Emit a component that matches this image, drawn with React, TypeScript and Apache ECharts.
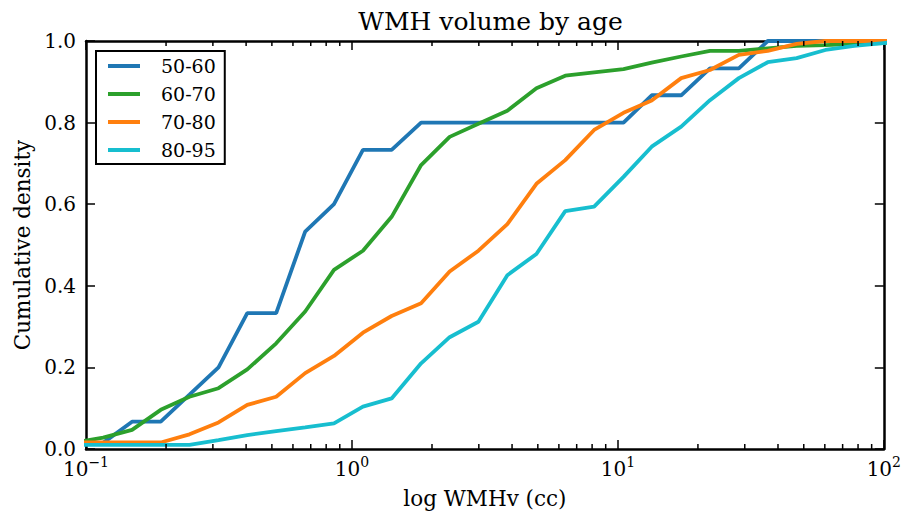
import React, { useEffect, useRef } from "react";
import * as echarts from "echarts";

// x positions (cc) of the cumulative curves
const xValues = [
  0.090, 0.116, 0.149, 0.191, 0.245, 0.315, 0.404, 0.519, 0.667, 0.856,
  1.10, 1.41, 1.82, 2.33, 2.99, 3.84, 4.94, 6.34, 8.14, 10.5,
  13.4, 17.3, 22.2, 28.5, 36.6, 47.0, 60.3, 77.4, 99.5, 128,
];

const ageGroups = ["50-60", "60-70", "70-80", "80-95"];

const cdf5060 = [
  0.013, 0.015, 0.067, 0.067, 0.133, 0.2, 0.333, 0.333, 0.533, 0.6,
  0.733, 0.733, 0.8, 0.8, 0.8, 0.8, 0.8, 0.8, 0.8, 0.8,
  0.867, 0.867, 0.933, 0.933, 1.0, 1.0, 1.0, 1.0, 1.0, 1.0,
];
const cdf6070 = [
  0.015, 0.028, 0.047, 0.096, 0.128, 0.149, 0.195, 0.259, 0.337, 0.439,
  0.486, 0.569, 0.696, 0.765, 0.797, 0.829, 0.884, 0.915, 0.923, 0.931,
  0.947, 0.962, 0.976, 0.976, 0.982, 0.988, 0.99, 0.993, 0.995, 1.0,
];
const cdf7080 = [
  0.016, 0.016, 0.016, 0.016, 0.036, 0.065, 0.108, 0.128, 0.186, 0.228,
  0.285, 0.326, 0.357, 0.435, 0.486, 0.551, 0.65, 0.708, 0.782, 0.824,
  0.854, 0.909, 0.929, 0.966, 0.976, 0.993, 1.0, 1.0, 1.0, 1.0,
];
const cdf8095 = [
  0.01, 0.01, 0.01, 0.01, 0.01, 0.022, 0.034, 0.044, 0.053, 0.063,
  0.104, 0.124, 0.21, 0.274, 0.312, 0.426, 0.478, 0.583, 0.594, 0.667,
  0.741, 0.79, 0.855, 0.909, 0.948, 0.958, 0.978, 0.988, 0.995, 1.0,
];

const seriesValues = [cdf5060, cdf6070, cdf7080, cdf8095];
const colors = ["#1f77b4", "#2ca02c", "#ff7f0e", "#17becf"];

const minorTickValues = [
  0.2, 0.3, 0.4, 0.5, 0.6, 0.7, 0.8, 0.9,
  2, 3, 4, 5, 6, 7, 8, 9,
  20, 30, 40, 50, 60, 70, 80, 90,
];

const FONT = "DejaVu Serif";

export default function App() {
  const ref = useRef<HTMLDivElement>(null);

  useEffect(() => {
    document.body.style.margin = "0";
    if (!ref.current) return;
    const chart = echarts.init(ref.current, undefined, { renderer: "svg" });

    const xLabel = (v: number) => {
      const e = Math.round(Math.log10(v));
      const s = e < 0 ? "\u2212" + Math.abs(e) : String(e);
      return "{b|10}{s|" + s + "}";
    };

    const commonX = {
      type: "log" as const,
      logBase: 10,
      min: 0.1,
      max: 100,
      axisLine: { show: true, onZero: false, lineStyle: { color: "#000", width: 2.5 } },
      axisTick: { show: true, inside: true, length: 9, lineStyle: { color: "#000", width: 1.5 } },
      splitLine: { show: false },
      minorTick: { show: false },
    };
    const commonY = {
      type: "value" as const,
      min: 0,
      max: 1,
      interval: 0.2,
      axisLine: { show: true, onZero: false, lineStyle: { color: "#000", width: 2.5 } },
      axisTick: { show: true, inside: true, length: 9, lineStyle: { color: "#000", width: 1.5 } },
      splitLine: { show: false },
    };

    const lineSeries = ageGroups.map((name, i) => ({
      name,
      type: "line" as const,
      data: xValues.map((x, j) => [x, seriesValues[i][j]]),
      showSymbol: false,
      symbol: "none",
      lineStyle: { color: colors[i], width: 3.8 },
      itemStyle: { color: colors[i] },
      clip: true,
      z: 2,
    }));

    chart.setOption({
      animation: false,
      backgroundColor: "#fff",
      textStyle: { fontFamily: FONT },
      title: {
        text: "WMH volume by age",
        left: 485.5,
        textAlign: "center",
        top: 4,
        textStyle: { fontFamily: FONT, fontSize: 25, fontWeight: "normal", color: "#000" },
      },
      grid: { left: 86, right: 19, top: 41, bottom: 70, containLabel: false },
      legend: {
        orient: "vertical",
        left: 96,
        top: 51,
        data: ageGroups.map((n) => ({ name: n, icon: "rect" })),
        itemWidth: 32,
        itemHeight: 4,
        itemGap: 6,
        borderColor: "#000",
        borderWidth: 2,
        padding: [4, 9, 3, 12],
        backgroundColor: "#fff",
        selectedMode: false,
        textStyle: { fontFamily: FONT, fontSize: 19, color: "#000", lineHeight: 22, padding: [0, 0, 0, 16] },
      },
      xAxis: [
        {
          ...commonX,
          position: "bottom",
          name: "log WMHv (cc)",
          nameLocation: "middle",
          nameGap: 38,
          nameTextStyle: { fontFamily: FONT, fontSize: 21.5, color: "#000" },
          axisLabel: {
            show: true,
            margin: 6,
            formatter: xLabel,
            rich: {
              b: { fontFamily: FONT, fontSize: 20, color: "#000", lineHeight: 24, padding: [4, 0, 0, 0], verticalAlign: "bottom" },
              s: { fontFamily: FONT, fontSize: 14, color: "#000", lineHeight: 16, verticalAlign: "top" },
            },
          },
        },
        { ...commonX, position: "top", axisLabel: { show: false } },
      ],
      yAxis: [
        {
          ...commonY,
          position: "left",
          name: "Cumulative density",
          nameLocation: "middle",
          nameGap: 53,
          nameRotate: 90,
          nameTextStyle: { fontFamily: FONT, fontSize: 21.5, color: "#000" },
          axisLabel: {
            show: true,
            margin: 10,
            fontFamily: FONT,
            fontSize: 20,
            color: "#000",
            formatter: (v: number) => v.toFixed(1),
          },
        },
        { ...commonY, position: "right", axisLabel: { show: false } },
      ],
      series: [
        ...lineSeries,
        {
          name: "minorTicks",
          type: "custom",
          silent: true,
          clip: false,
          z: 5,
          data: minorTickValues.map((v) => [v, 0]),
          encode: { x: 0, y: 1 },
          renderItem: (_params: any, api: any) => {
            const v = api.value(0);
            const pb = api.coord([v, 0]);
            const pt = api.coord([v, 1]);
            return {
              type: "group",
              children: [
                { type: "line", shape: { x1: pb[0], y1: pb[1], x2: pb[0], y2: pb[1] - 5 }, style: { stroke: "#000", lineWidth: 1.5 } },
                { type: "line", shape: { x1: pt[0], y1: pt[1], x2: pt[0], y2: pt[1] + 5 }, style: { stroke: "#000", lineWidth: 1.5 } },
              ],
            };
          },
        },
      ],
    });

    return () => chart.dispose();
  }, []);

  return <div ref={ref} style={{ width: 904, height: 519 }} />;
}
